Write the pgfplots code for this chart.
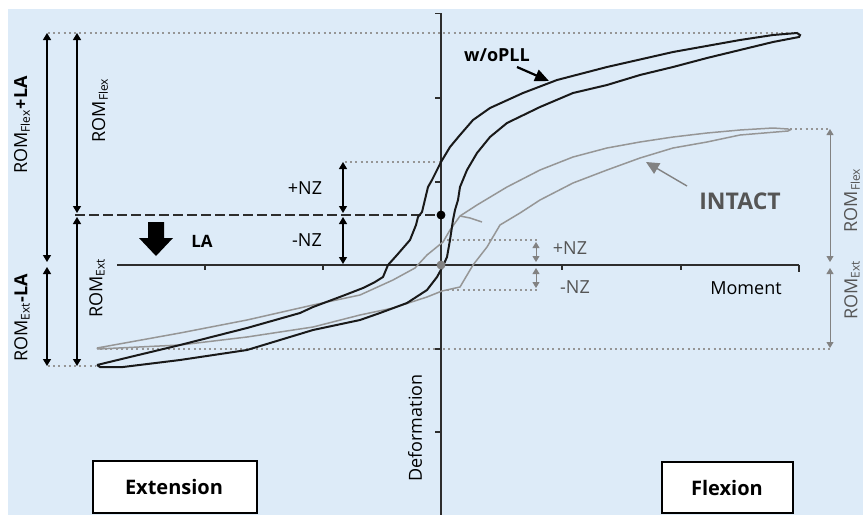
\documentclass[border=0pt]{standalone}
\usepackage{pgfplots}
\pgfplotsset{compat=1.18}
\usepackage{fontspec}
\setmainfont{Open Sans}
\usetikzlibrary{arrows.meta}
\definecolor{bgblue}{RGB}{221,235,248}
\definecolor{axisgray}{RGB}{45,45,45}
\definecolor{curvegray}{RGB}{150,150,150}
\definecolor{dotgray}{RGB}{150,150,150}
\definecolor{textgray}{RGB}{85,85,85}
\definecolor{arrgray}{RGB}{130,130,130}
\begin{document}
\begin{tikzpicture}[
  dbl/.style={{Triangle[width=4pt,length=3.5pt]}-{Triangle[width=4pt,length=3.5pt]}, line width=0.6pt, black},
  gdbl/.style={{Triangle[width=3.5pt,length=3pt]}-{Triangle[width=3.5pt,length=3pt]}, line width=0.5pt, arrgray},
  dots/.style={dotgray, dash pattern=on 1pt off 1.6pt, line width=0.6pt},
]
\begin{axis}[
  scale only axis, width=431.5pt, height=257.5pt,
  xmin=0, xmax=863, ymin=0, ymax=515, y dir=reverse,
  hide axis, clip=false,
]
% background
\fill[white] (axis cs:0,0) rectangle (axis cs:863,515);
\fill[bgblue] (axis cs:8,9) rectangle (axis cs:863,515);

% dotted guide lines
\draw[dots] (axis cs:48,33) -- (axis cs:792,33);
\draw[dots] (axis cs:48,366) -- (axis cs:95,366);
\draw[dots] (axis cs:345,162) -- (axis cs:441,162);
\draw[dots] (axis cs:100,349) -- (axis cs:830,349);
\draw[dots] (axis cs:790,129) -- (axis cs:830,129);
\draw[dots] (axis cs:447,240) -- (axis cs:537,240);
\draw[dots] (axis cs:447,290) -- (axis cs:537,290);

% axes
\addplot[axisgray, line width=1pt] coordinates {(117,265) (799,265)};
\addplot[axisgray, line width=1pt] coordinates {(441,13) (441,515)};
\foreach \t in {205,323,562,681}{
  \edef\tmp{\noexpand\draw[axisgray, line width=0.8pt] (axis cs:\t,265) -- (axis cs:\t,270);}\tmp
}
\draw[axisgray, line width=0.8pt] (axis cs:799,265) -- (axis cs:799,272);
\foreach \t in {13.5,98,182,349,432}{
  \edef\tmp{\noexpand\draw[axisgray, line width=0.8pt] (axis cs:435,\t) -- (axis cs:441,\t);}\tmp
}

% LA dashed line
\draw[axisgray, dash pattern=on 5pt off 2pt, line width=0.8pt] (axis cs:75,215) -- (axis cs:441,215);

% INTACT loop (gray)
\addplot[curvegray, line width=0.75pt] coordinates {
(97,348) (180,333) (247,320) (313,305) (360,295) (393,280) (415,268) (427,255)
(443,242) (450,230) (460,216) (477,205) (507,187) (540,170) (573,157) (607,148)
(640,142) (673,137) (707,133) (740,130) (773,128) (788,129)
(790,130)
(788,131) (740,135) (707,142) (673,148) (640,158) (607,170) (573,183) (540,200)
(520,213) (500,225) (487,247) (473,265) (460,287) (442,291) (427,297) (393,308)
(360,315) (313,327) (247,337) (180,345) (98,349) (97,348)
};
\addplot[curvegray, line width=0.75pt] coordinates {(460,216) (470,218) (482,222)};

% w/oPLL loop (black)
\addplot[black!90, line width=1pt] coordinates {
(97,365) (130,357) (180,345) (247,328) (300,313) (313,307) (345,295) (363,288)
(375,282) (383,277) (388,265) (397,255) (410,240) (416,225) (418,217) (422,212)
(428,187) (432,180) (437,170) (441,162) (450,147) (460,135) (473,120) (490,108)
(523,93) (557,80) (607,67) (673,52) (740,40) (773,35) (797,33) (800,35)
(799,37) (773,42) (740,50) (707,58) (673,67) (640,75) (607,85) (573,93)
(540,107) (507,123) (490,137) (477,153) (467,170) (460,187) (458,200) (455,210)
(453,220) (450,240) (447,257) (443,266) (437,277) (427,290) (407,303) (380,313)
(360,320) (313,330) (247,350) (180,360) (123,367) (100,367) (97,365)
};

% points
\addplot[only marks, mark=*, mark size=2pt, black] coordinates {(441,215)};
\addplot[only marks, mark=*, mark size=2pt, draw=arrgray, fill=arrgray] coordinates {(441,265)};

% left double arrows
\draw[dbl] (axis cs:47,33) -- (axis cs:47,262);
\draw[dbl] (axis cs:47,267) -- (axis cs:47,366);
\draw[dbl] (axis cs:77,33) -- (axis cs:77,213);
\draw[dbl] (axis cs:77,217) -- (axis cs:77,366);
\draw[dbl] (axis cs:343,162) -- (axis cs:343,213);
\draw[dbl] (axis cs:343,217) -- (axis cs:343,264);

% right gray double arrows
\draw[gdbl] (axis cs:536,242) -- (axis cs:536,262);
\draw[gdbl] (axis cs:536,268) -- (axis cs:536,288);
\draw[gdbl] (axis cs:830,129) -- (axis cs:830,262);
\draw[gdbl] (axis cs:830,268) -- (axis cs:830,348);

% big LA arrow
\fill[black] (axis cs:148,222) -- (axis cs:164,222) -- (axis cs:164,238) -- (axis cs:173,238)
  -- (axis cs:156,256) -- (axis cs:139,238) -- (axis cs:148,238) -- cycle;

% pointer arrows
\draw[black, line width=1.1pt, -{Triangle[width=6pt,length=7pt]}] (axis cs:517,67) -- (axis cs:549,81);
\draw[arrgray, line width=0.7pt, -{Triangle[width=6pt,length=6.5pt]}] (axis cs:687,186) -- (axis cs:646,162);

% labels
\node[rotate=90, font=\fontsize{9}{10}\selectfont] at (axis cs:22,125) {ROM\textsubscript{Flex}\textbf{+LA}};
\node[rotate=90, font=\fontsize{9}{10}\selectfont] at (axis cs:22,318) {ROM\textsubscript{Ext}\textbf{-LA}};
\node[rotate=90, font=\fontsize{9}{10}\selectfont] at (axis cs:100,110) {ROM\textsubscript{Flex}};
\node[rotate=90, font=\fontsize{9}{10}\selectfont] at (axis cs:97,288) {ROM\textsubscript{Ext}};
\node[rotate=90, font=\fontsize{9}{10}\selectfont, text=textgray] at (axis cs:852,200) {ROM\textsubscript{Flex}};
\node[rotate=90, font=\fontsize{9}{10}\selectfont, text=textgray] at (axis cs:852,290) {ROM\textsubscript{Ext}};
\node[font=\fontsize{9}{10}\selectfont] at (axis cs:305,188) {+NZ};
\node[font=\fontsize{9}{10}\selectfont] at (axis cs:307,240) {-NZ};
\node[font=\fontsize{9}{10}\selectfont, text=textgray] at (axis cs:570,248) {+NZ};
\node[font=\fontsize{9}{10}\selectfont, text=textgray] at (axis cs:575,287) {-NZ};
\node[font=\bfseries\fontsize{8.5}{10}\selectfont] at (axis cs:202,241) {LA};
\node[font=\bfseries\fontsize{9}{10}\selectfont] at (axis cs:497,55) {w/oPLL};
\node[font=\bfseries\fontsize{11.5}{13}\selectfont, text=textgray] at (axis cs:740,201) {INTACT};
\node[font=\fontsize{9}{10}\selectfont] at (axis cs:746,288) {Moment};
\node[rotate=90, font=\fontsize{9}{10}\selectfont] at (axis cs:415,428) {Deformation};

% boxes
\draw[black, line width=1pt, fill=white] (axis cs:93,461) rectangle (axis cs:257,513);
\node[font=\bfseries\fontsize{10}{12}\selectfont] at (axis cs:174,487) {Extension};
\draw[black, line width=1pt, fill=white] (axis cs:662,462) rectangle (axis cs:793,513);
\node[font=\bfseries\fontsize{10}{12}\selectfont] at (axis cs:727,488) {Flexion};
\end{axis}
\pgfresetboundingbox
\path (current axis.south west) rectangle (current axis.north east);
\end{tikzpicture}
\end{document}
